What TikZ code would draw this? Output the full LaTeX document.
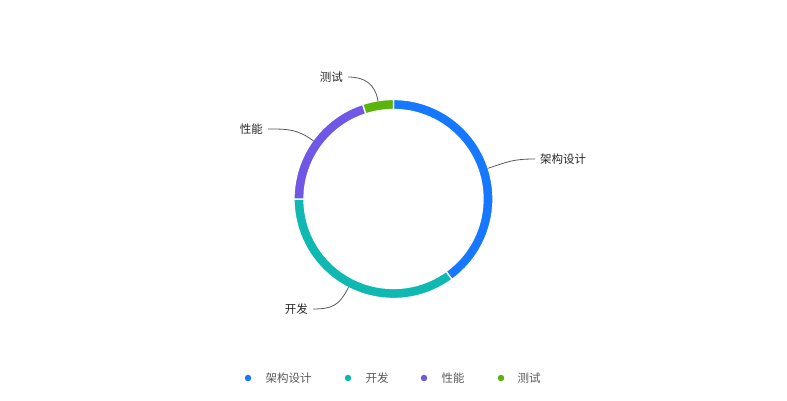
\documentclass[tikz,border=0pt]{standalone}
\usepackage{fontspec}
\newfontfamily\cjk{Noto Sans CJK SC}
\usetikzlibrary{positioning}
\definecolor{segblue}{HTML}{1677FF}
\definecolor{segteal}{HTML}{0FB9B1}
\definecolor{segpurple}{HTML}{7057E6}
\definecolor{seggreen}{HTML}{5BB30C}
\tikzset{
    ringseg/.style = {draw=white, line width=1.3pt},
    mylabel/.style = {inner sep=0pt, font=\cjk\fontsize{11.5}{12}\selectfont, text=black!85},
    mylegend/.style = {inner sep=0pt, font=\cjk\fontsize{11.5}{12}\selectfont, text=black!65},
    mydot/.style = {circle, inner sep=0pt, minimum size=6.5pt},
    edgel/.style = {-, line width=0.8pt, black!65}
}

\begin{document}
\begin{tikzpicture}[x=1pt,y=1pt]
  \useasboundingbox (0,0) rectangle (787,401);
  \coordinate (c) at (393.5,202);
  % ring
  \foreach \a/\b/\col in {90/-54/segblue, -54/-180/segteal, 180/108/segpurple, 108/90/seggreen}
    \filldraw[ringseg, fill=\col] ([shift={(\a:99.5)}]c) arc (\a:\b:99.5) -- ([shift={(\b:89.5)}]c) arc (\b:\a:89.5) -- cycle;
  % labels
  \coordinate (pb) at ([shift={(18:99)}]c);
  \coordinate (pt) at ([shift={(-117:99)}]c);
  \coordinate (pp) at ([shift={(144:99)}]c);
  \coordinate (pg) at ([shift={(99:99)}]c);
  \node[mylabel, anchor=west] (lb) at (540,242) {架构设计};
  \node[mylabel, anchor=east] (lt) at (308,92) {开发};
  \node[mylabel, anchor=east] (lp) at (263,272) {性能};
  \node[mylabel, anchor=east] (lg) at (343,324) {测试};
  \draw[edgel] (pb) .. controls ++(18:22) and ++(-22,0) .. ([xshift=-5pt]lb.west);
  \draw[edgel] (pt) .. controls ++(-117:20) and ++(20,0) .. ([xshift=5pt]lt.east);
  \draw[edgel] (pp) .. controls ++(144:20) and ++(20,0) .. ([xshift=5pt]lp.east);
  \draw[edgel] (pg) .. controls ++(99:18) and ++(16,0) .. ([xshift=5pt]lg.east);
  % legend
  \node[mydot, fill=segblue] (d1) at (248,23) {};
  \node[mylegend, right=14pt of d1] (t1) {架构设计};
  \node[mydot, fill=segteal] (d2) at (348,23) {};
  \node[mylegend, right=14pt of d2] (t2) {开发};
  \node[mydot, fill=segpurple] (d3) at (424,23) {};
  \node[mylegend, right=14pt of d3] (t3) {性能};
  \node[mydot, fill=seggreen] (d4) at (501,23) {};
  \node[mylegend, right=13pt of d4] (t4) {测试};
\end{tikzpicture}
\end{document}
